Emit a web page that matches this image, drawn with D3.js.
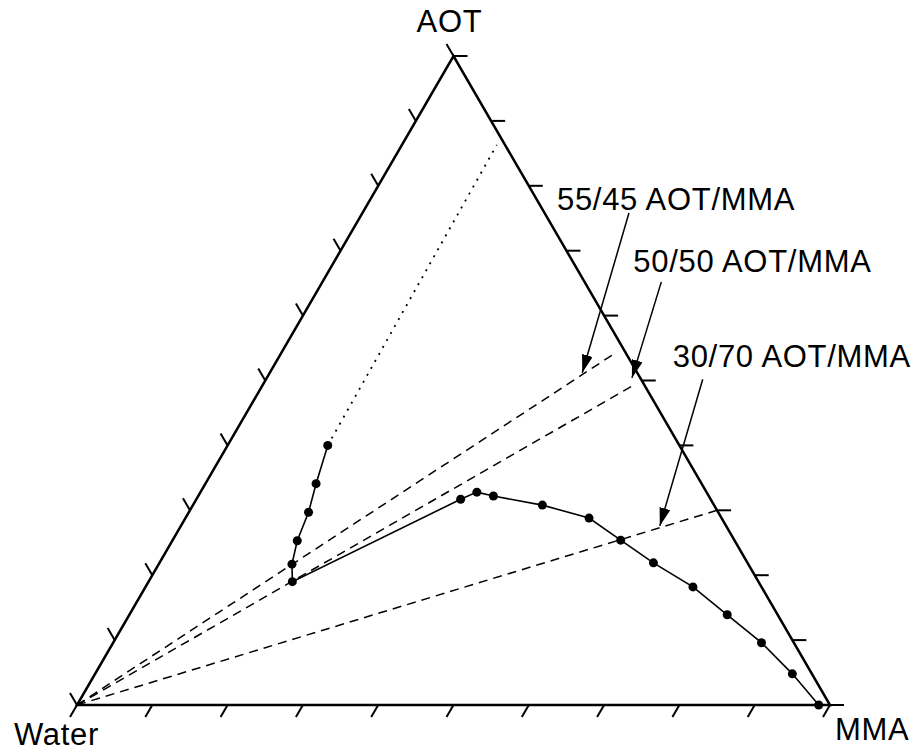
<!DOCTYPE html>
<html>
<head>
<meta charset="utf-8">
<script src="https://d3js.org/d3.v7.min.js"></script>
<style>
  body { margin: 0; background: #fff; }
  text { font-family: "Liberation Sans", Arial, sans-serif; font-size: 31px; letter-spacing: 0.7px; fill: #000; }
</style>
</head>
<body>
<div id="chartContainer"></div>
<script>
// compositions given as AOT and MMA fractions, water = 1 - AOT - MMA
var boundaryAOT = [0.400, 0.341, 0.297, 0.253, 0.217, 0.190, 0.317, 0.328, 0.322, 0.308, 0.288, 0.254, 0.219, 0.182, 0.139, 0.096, 0.048, 0.000];
var boundaryMMA = [0.133, 0.147, 0.159, 0.166, 0.177, 0.191, 0.351, 0.367, 0.392, 0.464, 0.536, 0.595, 0.656, 0.727, 0.794, 0.861, 0.926, 0.985];

// dotted extension of the left branch
var dottedAOT = [0.400, 0.863];
var dottedMMA = [0.133, 0.126];

// dilution lines drawn from the water corner
var ratioLabels = ["55/45 AOT/MMA", "50/50 AOT/MMA", "30/70 AOT/MMA"];
var ratioAOT = [0.55, 0.50, 0.30];
var ratioMMA = [0.45, 0.50, 0.70];
var ratioReach = [0.985, 0.985, 1.0];

// arrows pointing at the lines
var arrowTipAOT = [0.512, 0.504, 0.276];
var arrowTipMMA = [0.415, 0.485, 0.636];
var arrowTailAOT = [0.758, 0.652, 0.502];
var arrowTailMMA = [0.354, 0.450, 0.580];

var tickValues = d3.range(0, 11).map(function(k) { return k / 10; });
var cornerNames = ["Water", "MMA", "AOT"];

var width = 918, height = 752;
var svg = d3.select("#chartContainer").append("svg")
  .attr("width", width).attr("height", height);

// horizontal position runs along MMA + AOT/2, vertical along AOT
var x = d3.scaleLinear().domain([0, 1]).range([77, 830]);
var y = d3.scaleLinear().domain([0, 1]).range([705, 56]);
function px(a, m) { return x(m + a / 2); }
function py(a) { return y(a); }

svg.append("defs").append("marker")
  .attr("id", "head")
  .attr("markerUnits", "userSpaceOnUse")
  .attr("viewBox", "0 0 18 11")
  .attr("refX", 18).attr("refY", 5.5)
  .attr("markerWidth", 18).attr("markerHeight", 11)
  .attr("orient", "auto")
  .append("path").attr("d", "M0,0 L18,5.5 L0,11 Z").attr("fill", "#000");

// triangle
var corners = [[0, 0], [0, 1], [1, 0]];
svg.append("path")
  .attr("d", d3.line()(corners.map(function(c) { return [px(c[0], c[1]), py(c[0])]; })) + "Z")
  .attr("fill", "none").attr("stroke", "#000").attr("stroke-width", 2.5)
  .attr("stroke-linejoin", "miter");

// ticks
var ticks = svg.append("g").attr("stroke", "#000").attr("stroke-width", 2);
ticks.selectAll(".tb").data(tickValues).enter().append("line")
  .attr("x1", function(d) { return px(0, d); }).attr("y1", py(0))
  .attr("x2", function(d) { return px(0, d) - 7; }).attr("y2", py(0) + 12);
ticks.selectAll(".tl").data(tickValues).enter().append("line")
  .attr("x1", function(d) { return px(d, 0); }).attr("y1", function(d) { return py(d); })
  .attr("x2", function(d) { return px(d, 0) - 7; }).attr("y2", function(d) { return py(d) - 12; });
ticks.selectAll(".tr").data(tickValues).enter().append("line")
  .attr("x1", function(d) { return px(d, 1 - d); }).attr("y1", function(d) { return py(d); })
  .attr("x2", function(d) { return px(d, 1 - d) + 14; }).attr("y2", function(d) { return py(d); });

// dashed dilution lines
svg.selectAll(".ratio").data(ratioAOT).enter().append("line")
  .attr("x1", px(0, 0)).attr("y1", py(0))
  .attr("x2", function(d, i) { return px(d * ratioReach[i], ratioMMA[i] * ratioReach[i]); })
  .attr("y2", function(d, i) { return py(d * ratioReach[i]); })
  .attr("stroke", "#000").attr("stroke-width", 1.5).attr("stroke-dasharray", "9,6");

// dotted extension
svg.append("path")
  .attr("d", d3.line()(dottedAOT.map(function(a, i) { return [px(a, dottedMMA[i]), py(a)]; })))
  .attr("fill", "none").attr("stroke", "#000").attr("stroke-width", 1.8)
  .attr("stroke-dasharray", "2,6");

// phase boundary
var pts = boundaryAOT.map(function(a, i) { return [px(a, boundaryMMA[i]), py(a)]; });
svg.append("path").attr("d", d3.line()(pts))
  .attr("fill", "none").attr("stroke", "#000").attr("stroke-width", 1.6);
svg.selectAll(".dot").data(pts).enter().append("circle")
  .attr("cx", function(d) { return d[0]; }).attr("cy", function(d) { return d[1]; })
  .attr("r", 4.5).attr("fill", "#000");

// arrows and labels
svg.selectAll(".arrow").data(arrowTipAOT).enter().append("line")
  .attr("x1", function(d, i) { return px(arrowTailAOT[i], arrowTailMMA[i]); })
  .attr("y1", function(d, i) { return py(arrowTailAOT[i]); })
  .attr("x2", function(d, i) { return px(d, arrowTipMMA[i]); })
  .attr("y2", function(d) { return py(d); })
  .attr("stroke", "#000").attr("stroke-width", 1.5).attr("marker-end", "url(#head)");

var labelShift = [[-72, -3], [-28, -10], [-30, -12]];
svg.selectAll(".rlabel").data(ratioLabels).enter().append("text")
  .attr("x", function(d, i) { return px(arrowTailAOT[i], arrowTailMMA[i]) + labelShift[i][0]; })
  .attr("y", function(d, i) { return py(arrowTailAOT[i]) + labelShift[i][1]; })
  .text(function(d) { return d; });

// corner names
svg.append("text").attr("x", px(0, 0) - 63).attr("y", py(0) + 40).text(cornerNames[0]);
svg.append("text").attr("x", px(0, 1) + 5).attr("y", py(0) + 35).text(cornerNames[1]);
svg.append("text").attr("x", px(1, 0) - 4).attr("y", py(1) - 24)
  .attr("text-anchor", "middle").text(cornerNames[2]);
</script>
</body>
</html>
